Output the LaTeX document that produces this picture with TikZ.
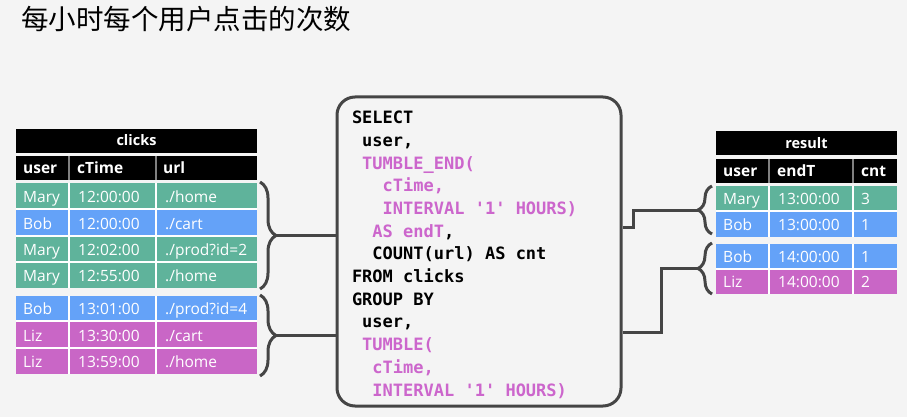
\documentclass[tikz,border=0pt]{standalone}
\usepackage{fontspec}
\usetikzlibrary{decorations.pathreplacing}
\newfontfamily\cjkfont{Noto Sans CJK SC}
\newfontfamily\tabfont{Open Sans}
\newfontfamily\codefont{DejaVu Sans Mono}
\definecolor{bg}{HTML}{F4F4F4}
\definecolor{rowgreen}{HTML}{5FB39B}
\definecolor{rowblue}{HTML}{64A2F8}
\definecolor{rowpink}{HTML}{C966C6}
\definecolor{codepink}{HTML}{CC66CC}
\definecolor{linegray}{HTML}{454545}
\newcommand{\pk}[1]{\textcolor{codepink}{#1}}
\newcommand{\ks}{\phantom{x}}
\tikzset{
	celltext/.style={anchor=base west, inner sep=0pt, text=white, font=\tabfont\fontsize{15.5}{18}\selectfont},
	headtext/.style={celltext, font=\tabfont\bfseries\fontsize{15.5}{18}\selectfont},
	titletext/.style={anchor=base, inner sep=0pt, text=white, font=\tabfont\bfseries\fontsize{14.5}{17}\selectfont},
	cellline/.style={white, line width=1.5pt},
	headsep/.style={gray, line width=1.5pt},
	link/.style={linegray, line width=3pt},
	bracelink/.style={link, decorate, decoration={brace, amplitude=#1}},
	codebox/.style={draw=linegray, line width=3pt, rounded corners=18pt, minimum width=284pt, minimum height=309pt,
		text width=254pt, inner xsep=15pt, align=left, font=\codefont\bfseries\fontsize{17}{22.7}\selectfont}
}
\begin{document}
\begin{tikzpicture}[x=1pt, y=-1pt]
		% Background
		\fill[bg] (0,0) rectangle (907,417);
		\node[anchor=base west, inner sep=0pt, font=\cjkfont\fontsize{27.5}{30}\selectfont] (title) at (21,30) {每小时每个用户点击的次数};
		% clicks table
		\fill (16,129) rectangle (257,153);
		\fill (16,156) rectangle (257,180);
		\node[titletext] (clicks) at (136.5,146) {clicks};
		\node[headtext] (cuser) at (23,173.5) {user};
		\node[headtext] (ctime) at (77,173.5) {cTime};
		\node[headtext] (curl) at (163,173.5) {url};
		\draw[headsep] (69,156) -- (69,180) (156,156) -- (156,180);
		\fill[rowgreen] (16,183) rectangle (257,209);
		\fill[rowblue] (16,209) rectangle (257,236);
		\fill[rowgreen] (16,236) rectangle (257,288);
		\fill[rowblue] (16,296) rectangle (257,321);
		\fill[rowpink] (16,321) rectangle (257,374);
		\draw[cellline] (69,183) -- (69,288) (156,183) -- (156,288);
		\draw[cellline] (69,296) -- (69,374) (156,296) -- (156,374);
		\draw[cellline] (16,209) -- (257,209) (16,236) -- (257,236) (16,262) -- (257,262);
		\draw[cellline] (16,321) -- (257,321) (16,348) -- (257,348);
		% Labels
		\node[celltext] (u1) at (23,202) {Mary}; \node[celltext] (t1) at (78,202) {12:00:00}; \node[celltext] (l1) at (165,202) {./home};
		\node[celltext] (u2) at (23,229) {Bob}; \node[celltext] (t2) at (78,229) {12:00:00}; \node[celltext] (l2) at (165,229) {./cart};
		\node[celltext] (u3) at (23,255) {Mary}; \node[celltext] (t3) at (78,255) {12:02:00}; \node[celltext] (l3) at (165,255) {./prod?id=2};
		\node[celltext] (u4) at (23,281) {Mary}; \node[celltext] (t4) at (78,281) {12:55:00}; \node[celltext] (l4) at (165,281) {./home};
		\node[celltext] (u5) at (23,314) {Bob}; \node[celltext] (t5) at (78,314) {13:01:00}; \node[celltext] (l5) at (165,314) {./prod?id=4};
		\node[celltext] (u6) at (23,341) {Liz}; \node[celltext] (t6) at (78,341) {13:30:00}; \node[celltext] (l6) at (165,341) {./cart};
		\node[celltext] (u7) at (23,367) {Liz}; \node[celltext] (t7) at (78,367) {13:59:00}; \node[celltext] (l7) at (165,367) {./home};
		% Query
		\node[codebox] (query) at (479,251.5) {\rule{0pt}{19pt}SELECT\\
			\ks user,\\
			\ks\pk{TUMBLE\_END(}\\
			\ks\ks\ks\pk{cTime,}\\
			\ks\ks\ks\pk{INTERVAL\ks'1'\ks HOURS)}\\
			\ks\ks\pk{AS\ks endT},\\
			\ks\ks COUNT(url)\ks AS\ks cnt\\
			FROM\ks clicks\\
			GROUP\ks BY\\
			\ks user,\\
			\ks\pk{TUMBLE(}\\
			\ks\ks\pk{cTime,}\\
			\ks\ks\pk{INTERVAL\ks'1'\ks HOURS)}};
		% result table
		\fill (716,131) rectangle (897,155);
		\fill (716,159) rectangle (897,183);
		\node[titletext] (result) at (806.5,148) {result};
		\node[headtext] (ruser) at (723,176.5) {user};
		\node[headtext] (rend) at (777,176.5) {endT};
		\node[headtext] (rcnt) at (861,176.5) {cnt};
		\draw[headsep] (769,159) -- (769,183) (853,159) -- (853,183);
		\fill[rowgreen] (716,186) rectangle (897,211);
		\fill[rowblue] (716,211) rectangle (897,237);
		\fill[rowblue] (716,244) rectangle (897,269);
		\fill[rowpink] (716,269) rectangle (897,294);
		\draw[cellline] (769,186) -- (769,237) (853,186) -- (853,237);
		\draw[cellline] (769,244) -- (769,294) (853,244) -- (853,294);
		\draw[cellline] (716,211) -- (897,211) (716,269) -- (897,269);
		\node[celltext] (ru1) at (723,204) {Mary}; \node[celltext] (re1) at (778,204) {13:00:00}; \node[celltext] (rc1) at (861,204) {3};
		\node[celltext] (ru2) at (723,230) {Bob}; \node[celltext] (re2) at (778,230) {13:00:00}; \node[celltext] (rc2) at (861,230) {1};
		\node[celltext] (ru3) at (723,262) {Bob}; \node[celltext] (re3) at (778,262) {14:00:00}; \node[celltext] (rc3) at (861,262) {1};
		\node[celltext] (ru4) at (723,287) {Liz}; \node[celltext] (re4) at (778,287) {14:00:00}; \node[celltext] (rc4) at (861,287) {2};
		% Braces
		\draw[bracelink=16] (260,182) -- (260,289);
		\draw[bracelink=16] (260,295) -- (260,376);
		\draw[bracelink=14] (712,234) -- (712,186);
		\draw[bracelink=14] (712,294) -- (712,243);
		\coordinate (win1) at (276,235.5);
		\coordinate (win2) at (276,335.5);
		\coordinate (hour1) at (698,210);
		\coordinate (hour2) at (698,268.5);
		% Links
		\draw[link] (win1) -- (win1 -| query.west);
		\draw[link] (win2) -- (win2 -| query.west);
		\draw[link] (query.east |- 0,227) -- ++(11,0) |- (hour1);
		\draw[link] (query.east |- 0,332) -- ++(39,0) |- (hour2);
	\end{tikzpicture}
\end{document}
